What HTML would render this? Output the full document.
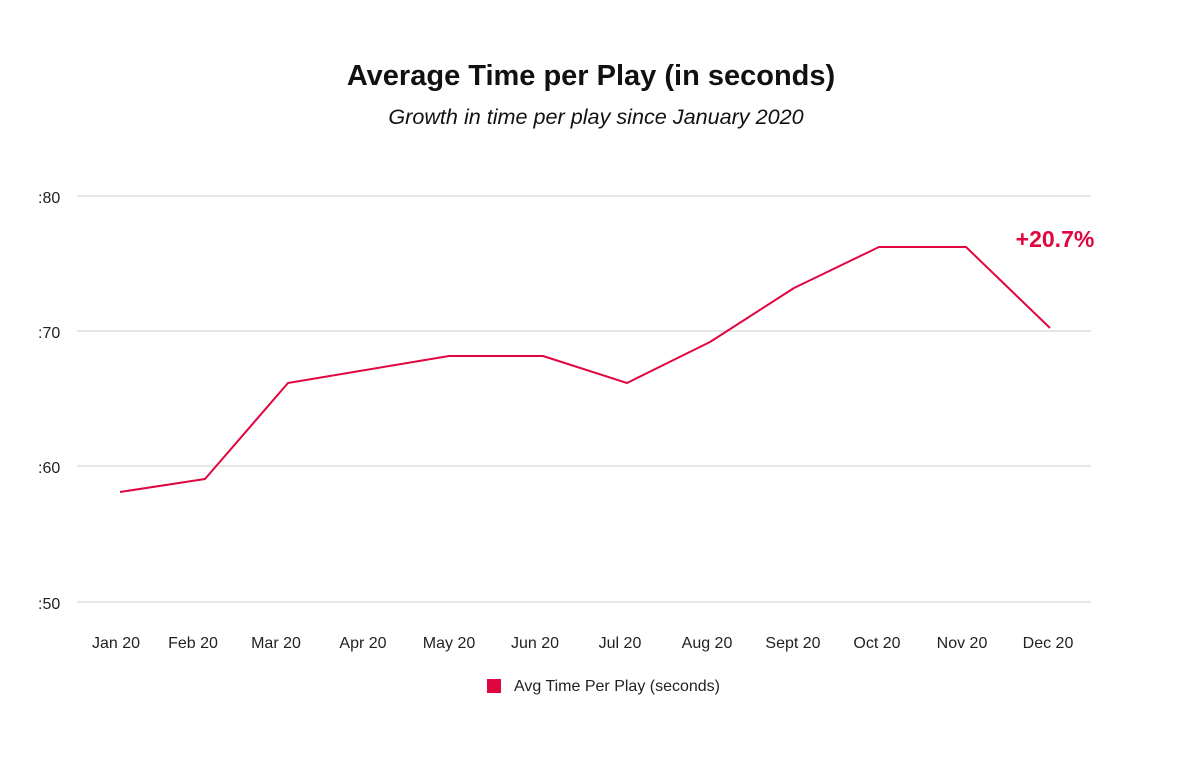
<!DOCTYPE html>
<html><head><meta charset="utf-8"><style>
html,body{margin:0;padding:0;background:#fff;}
svg{display:block;font-family:"Liberation Sans",sans-serif;}
</style></head><body>
<svg width="1200" height="767" viewBox="0 0 1200 767" xmlns="http://www.w3.org/2000/svg">
<rect width="1200" height="767" fill="#fff"/>
<text x="591" y="85" text-anchor="middle" font-size="29" font-weight="bold" fill="#111">Average Time per Play (in seconds)</text>
<text x="596" y="124" text-anchor="middle" font-size="21.6" font-style="italic" fill="#111">Growth in time per play since January 2020</text>
<g stroke="#d6d6d6" stroke-width="1.2">
<line x1="77" y1="196" x2="1091" y2="196"/>
<line x1="77" y1="331" x2="1091" y2="331"/>
<line x1="77" y1="466" x2="1091" y2="466"/>
<line x1="77" y1="602" x2="1091" y2="602"/>
</g>
<g font-size="16" fill="#222">
<text x="38" y="203">:80</text>
<text x="38" y="338">:70</text>
<text x="38" y="473">:60</text>
<text x="38" y="609">:50</text>
</g>
<polyline fill="none" stroke="#e0063f" stroke-width="2" stroke-linejoin="round" points="120,492 205,479 288,383 449,356 543,356 627,383 710,342 794,288 879,247 966,247 1050,328"/>
<text x="1055" y="247" text-anchor="middle" font-size="23" font-weight="bold" fill="#e0063f">+20.7%</text>
<g font-size="16" fill="#222" text-anchor="middle">
<text x="116" y="648">Jan 20</text>
<text x="193" y="648">Feb 20</text>
<text x="276" y="648">Mar 20</text>
<text x="363" y="648">Apr 20</text>
<text x="449" y="648">May 20</text>
<text x="535" y="648">Jun 20</text>
<text x="620" y="648">Jul 20</text>
<text x="707" y="648">Aug 20</text>
<text x="793" y="648">Sept 20</text>
<text x="877" y="648">Oct 20</text>
<text x="962" y="648">Nov 20</text>
<text x="1048" y="648">Dec 20</text>
</g>
<rect x="487" y="679" width="14" height="14" fill="#e0063f"/>
<text x="514" y="691" font-size="16" fill="#222">Avg Time Per Play (seconds)</text>
</svg>
</body></html>
